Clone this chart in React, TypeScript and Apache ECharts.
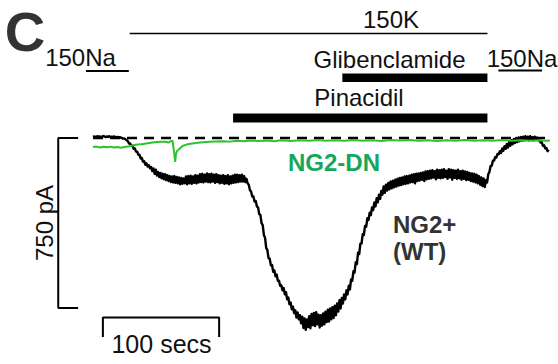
import React, { useEffect, useRef } from "react";
import * as echarts from "echarts";

// NG2+ (WT) whole-cell current in pA, one sample per second from t = 0 s.
const wtCurrent: number[] = [
  5, 7, 4, 6, 8, 5, 7, 4, 6, 9,
  6, 4, 7, 5, 8, 4, 6, 3, 7, 5,
  3, 5, 2, 4, 1, 0, -3, -2, -6, -10,
  -14, -24, -24, -34, -34, -48, -46, -60, -60, -74,
  -74, -90, -88, -104, -102, -118, -112, -126, -120, -134,
  -128, -146, -134, -158, -140, -166, -150, -172, -154, -178,
  -158, -182, -160, -186, -164, -190, -168, -194, -170, -196,
  -168, -198, -172, -200, -174, -204, -176, -202, -178, -200,
  -170, -204, -168, -200, -166, -202, -170, -198, -164, -200,
  -166, -196, -160, -194, -158, -196, -162, -192, -156, -194,
  -160, -196, -158, -192, -162, -198, -160, -194, -164, -200,
  -166, -198, -164, -202, -168, -200, -164, -204, -170, -200,
  -166, -198, -162, -196, -162, -194, -164, -192, -162, -192,
  -168, -194, -180, -200, -206, -230, -236, -258, -258, -280,
  -278, -302, -306, -336, -340, -376, -384, -428, -440, -486,
  -494, -530, -532, -562, -560, -590, -584, -610, -602, -630,
  -630, -652, -650, -672, -662, -690, -680, -712, -704, -734,
  -726, -756, -744, -772, -760, -792, -770, -800, -782, -818,
  -788, -838, -796, -846, -800, -834, -786, -840, -776, -826,
  -772, -830, -768, -822, -780, -836, -782, -828, -774, -822,
  -766, -812, -758, -810, -752, -800, -746, -794, -740, -782,
  -730, -766, -716, -752, -706, -730, -690, -712, -672, -690,
  -652, -668, -624, -630, -588, -594, -548, -556, -506, -512,
  -466, -466, -424, -428, -388, -392, -354, -362, -330, -340,
  -306, -318, -284, -302, -266, -284, -250, -268, -234, -250,
  -214, -242, -206, -232, -198, -226, -192, -222, -188, -218,
  -184, -214, -180, -210, -176, -208, -174, -204, -170, -202,
  -168, -200, -166, -196, -162, -194, -160, -200, -158, -190,
  -156, -188, -154, -184, -152, -190, -148, -182, -146, -180,
  -144, -178, -142, -174, -146, -182, -140, -176, -142, -178,
  -140, -176, -138, -172, -144, -180, -138, -174, -140, -184,
  -142, -176, -144, -180, -140, -178, -146, -184, -144, -180,
  -148, -186, -150, -184, -154, -190, -156, -192, -158, -196,
  -162, -200, -168, -206, -174, -212, -178, -216, -186, -196,
  -160, -150, -124, -122, -100, -100, -84, -86, -70, -72,
  -58, -66, -46, -56, -36, -48, -26, -42, -18, -34,
  -10, -28, -4, -22, 0, -18, 2, -14, 4, -12,
  6, -10, 8, -8, 6, -10, 8, -8, 4, -10,
  6, -6, 2, -10, -8, -20, -18, -34, -32, -46,
  -44, -58, -52,
];

// NG2-DN current as [time s, pA].
const dnTrace: [number, number][] = [
  [0, -40], [3, -38], [6, -42], [9, -39], [12, -41], [15, -38], [18, -42], [21, -40], [24, -43], [27, -40],
  [30, -38], [33, -34], [37, -30], [40, -28], [43, -26], [47, -23], [51, -20], [55, -18], [59, -16], [62, -17],
  [65, -20], [67, -14], [68.4, -12], [69.7, -60], [70.7, -105], [71.4, -70], [72.5, -56], [74, -50], [77, -35], [81, -28],
  [85.5, -24], [90, -21], [95, -19], [100, -17], [105, -15], [112, -14], [118, -16], [124, -12], [130, -14], [136, -11],
  [142, -13], [150, -11], [156, -14], [162, -10], [170, -13], [178, -10], [186, -12], [194, -9], [200, -12], [208, -10],
  [216, -12], [224, -9], [232, -12], [240, -10], [248, -13], [256, -9], [264, -11], [272, -9], [280, -12], [288, -10],
  [296, -13], [304, -10], [312, -12], [320, -9], [328, -12], [336, -10], [344, -12], [352, -9], [360, -12], [368, -10],
  [376, -12], [384, -10], [390, -12], [393, -11],
];

const baseline: [number, number][] = [[0, 0], [393, 0]];

// Solution-exchange and drug application periods (start, end in s).
const kPeriod: [number, number] = [31.6, 339.3];
const naBefore: [number, number] = [-6, 30.8];
const naAfter: [number, number] = [348.7, 386.3];
const glibPeriod: [number, number] = [214.5, 339.3];
const pinPeriod: [number, number] = [120.5, 339.3];

// Scale bars: 750 pA and 100 s.
const currentBar: [number, number][] = [[-12.8, 0], [-29.9, 0], [-29.9, -750], [-12.8, -750]];
const timeBar: [number, number][] = [[8.5, -878], [8.5, -792], [108.5, -792], [108.5, -878]];

const labels = {
  panel: "C",
  k: "150K",
  na: "150Na",
  glib: "Glibenclamide",
  pin: "Pinacidil",
  amp: "750 pA",
  time: "100 secs",
  dn: "NG2-DN",
  wt1: "NG2+",
  wt2: "(WT)",
};

const FONT = "'Liberation Sans', Arial, sans-serif";

function seg(period: [number, number], level: number, width: number, name: string) {
  return {
    type: "line",
    name,
    data: [[period[0], level], [period[1], level]],
    symbol: "none",
    silent: true,
    lineStyle: { color: "#000", width, cap: "butt" },
  };
}

function txt(text: string, x: number, y: number, size: number, opts: any = {}) {
  return {
    type: "text",
    x,
    y,
    rotation: opts.rotation || 0,
    style: {
      text,
      font: `${opts.bold ? "bold " : ""}${size}px ${FONT}`,
      fill: opts.color || "#111",
      align: opts.align || "center",
      verticalAlign: "middle",
    },
  };
}

export default function App() {
  const ref = useRef<HTMLDivElement>(null);

  useEffect(() => {
    document.body.style.margin = "0";
    if (!ref.current) return;
    const chart = echarts.init(ref.current, null, { renderer: "svg" });
    const wtTrace = wtCurrent.map((v, i) => [i, v]);
    chart.setOption({
      animation: false,
      backgroundColor: "#fff",
      grid: { left: -3.6, right: 0, top: 2, bottom: 22 },
      xAxis: { type: "value", min: -80, max: 400, show: false },
      yAxis: { type: "value", min: -900, max: 600, show: false },
      series: [
        {
          type: "line",
          name: "baseline",
          data: baseline,
          symbol: "none",
          lineStyle: { color: "#000", width: 2.5, type: [10, 7] },
        },
        {
          type: "line",
          name: "NG2+ (WT)",
          data: wtTrace,
          symbol: "none",
          sampling: undefined,
          lineStyle: { color: "#000", width: 2.4, join: "round" },
        },
        {
          type: "line",
          name: "NG2-DN",
          data: dnTrace,
          symbol: "none",
          lineStyle: { color: "#2ec22e", width: 2 },
        },
        seg(kPeriod, 461, 1.6, "150K"),
        seg(naBefore, 296, 2, "150Na"),
        seg(naAfter, 298, 2, "150Na"),
        seg(glibPeriod, 266, 8.5, "Glibenclamide"),
        seg(pinPeriod, 88, 9, "Pinacidil"),
        {
          type: "line",
          name: "750 pA",
          data: currentBar,
          symbol: "none",
          lineStyle: { color: "#000", width: 2 },
        },
        {
          type: "line",
          name: "100 s",
          data: timeBar,
          symbol: "none",
          lineStyle: { color: "#000", width: 2 },
        },
      ],
      graphic: [
        txt(labels.panel, 25, 31, 56, { bold: true, color: "#333" }),
        txt(labels.na, 80.5, 57, 24),
        txt(labels.k, 391, 19, 24),
        txt(labels.glib, 389.5, 59, 24),
        txt(labels.pin, 359, 97, 24),
        txt(labels.na, 522, 58, 24),
        txt(labels.amp, 44, 223, 24, { rotation: Math.PI / 2 }),
        txt(labels.time, 161.5, 344, 25),
        txt(labels.dn, 334, 162, 24, { bold: true, color: "#16a75c" }),
        txt(labels.wt1, 393, 224, 24, { bold: true, color: "#333", align: "left" }),
        txt(labels.wt2, 393, 251, 24, { bold: true, color: "#333", align: "left" }),
      ],
    });
    return () => chart.dispose();
  }, []);

  return <div ref={ref} style={{ width: 558, height: 364 }} />;
}
